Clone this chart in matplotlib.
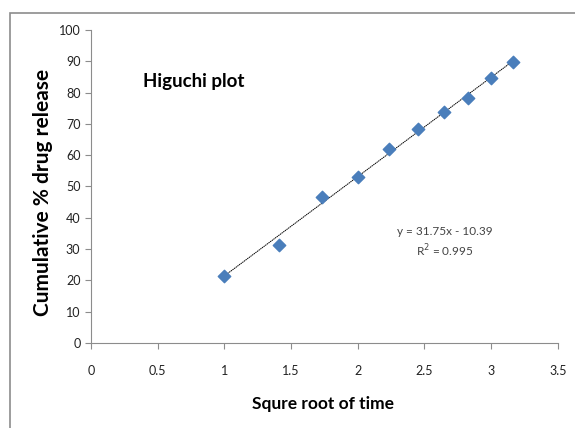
import numpy as np
import matplotlib
matplotlib.use("Agg")
import matplotlib.pyplot as plt
from matplotlib.patches import Rectangle

# Higuchi model data: square root of time vs cumulative % drug release
sqrt_time = [1.0, 1.414, 1.732, 2.0, 2.236, 2.449, 2.646, 2.828, 3.0, 3.162]
release = [21.2, 31.4, 46.7, 53.1, 62.1, 68.5, 73.9, 78.4, 84.5, 89.6]
slope, intercept = 31.75, -10.39
x_ticks = [0, 0.5, 1, 1.5, 2, 2.5, 3, 3.5]
y_ticks = [0, 10, 20, 30, 40, 50, 60, 70, 80, 90, 100]

plt.rcParams['font.family'] = ['Lato', 'DejaVu Sans']

fig = plt.figure(figsize=(5.75, 4.28), dpi=100)
ax = fig.add_axes([0.158, 0.199, 0.812, 0.731])

# outer chart frame
fig.patches.append(Rectangle((10 / 575, -0.05), 1.2, 1 - 13 / 428 + 0.05,
                             transform=fig.transFigure, fill=False,
                             edgecolor='#8c8c8c', linewidth=1.2))

ax.scatter(sqrt_time, release, marker='D', s=40, color='#4a7ebb',
           edgecolor='#4a7ebb', zorder=3)
xf = np.array([min(sqrt_time), max(sqrt_time)])
ax.plot(xf, slope * xf + intercept, color='black', linewidth=0.7,
        linestyle=(0, (1.5, 0.6)), zorder=2)

ax.set_xlim(0, 3.5)
ax.set_ylim(0, 100)
ax.set_xticks(x_ticks)
ax.set_xticklabels([f"{t:g}" for t in x_ticks])
ax.set_yticks(y_ticks)
for s in ['top', 'right']:
    ax.spines[s].set_visible(False)
for s in ['left', 'bottom']:
    ax.spines[s].set_color('#8c8c8c')
ax.tick_params(axis='both', colors='#8c8c8c', labelcolor='#222222',
               labelsize=9, length=4)
ax.tick_params(axis='x', pad=12)

fig.text(323 / 575, 1 - 404 / 428, 'Squre root of time', fontsize=12.5,
         fontweight='bold', ha='center', va='center')
fig.text(43 / 575, 1 - 192 / 428, 'Cumulative % drug release', fontsize=15,
         fontweight='bold', ha='center', va='center', rotation=90)

ax.text(0.111, 0.834, 'Higuchi plot', transform=ax.transAxes, fontsize=13.5,
        fontweight='bold', va='center')
ax.text(2.65, 35.5, 'y = 31.75x - 10.39', fontsize=8.5, color='#444444',
        ha='center', va='center')
ax.text(2.65, 29.5, 'R$^2$ = 0.995', fontsize=8.5, color='#444444',
        ha='center', va='center')

fig.savefig('out.png', dpi=100)
